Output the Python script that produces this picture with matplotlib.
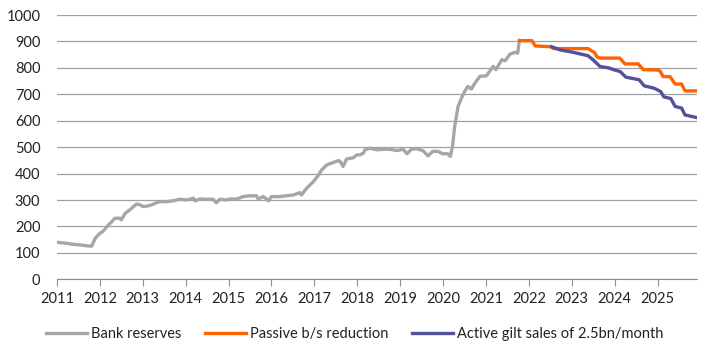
import matplotlib
matplotlib.use("Agg")
import matplotlib.pyplot as plt

# Bank reserves (fractional year, £bn)
res_t = [2011.00, 2011.23, 2011.34, 2011.54, 2011.73, 2011.81, 2011.89, 2012.00, 2012.08,
         2012.20, 2012.26, 2012.35, 2012.47, 2012.50, 2012.59, 2012.70, 2012.78, 2012.86,
         2012.93, 2013.01, 2013.13, 2013.21, 2013.32, 2013.40, 2013.56, 2013.71, 2013.87,
         2014.02, 2014.18, 2014.22, 2014.33, 2014.49, 2014.64, 2014.71, 2014.80, 2014.95,
         2015.03, 2015.19, 2015.34, 2015.50, 2015.65, 2015.69, 2015.81, 2015.93, 2016.00,
         2016.20, 2016.35, 2016.51, 2016.66, 2016.70, 2016.82, 2016.98, 2017.09, 2017.17,
         2017.29, 2017.44, 2017.56, 2017.60, 2017.67, 2017.75, 2017.91, 2017.99, 2018.06,
         2018.14, 2018.18, 2018.30, 2018.45, 2018.61, 2018.76, 2018.92, 2019.07, 2019.16,
         2019.26, 2019.38, 2019.53, 2019.65, 2019.76, 2019.88, 2019.99, 2020.11, 2020.17,
         2020.22, 2020.27, 2020.35, 2020.43, 2020.51, 2020.58, 2020.66, 2020.74, 2020.86,
         2021.01, 2021.17, 2021.23, 2021.37, 2021.45, 2021.56, 2021.68, 2021.74, 2021.78]
res_v = [140, 136, 133, 130, 126, 126, 155, 174, 183,
         206, 215, 231, 231, 225, 250, 263, 275, 285,
         282, 275, 278, 282, 290, 294, 294, 297, 303,
         300, 307, 297, 304, 303, 303, 290, 303, 300,
         304, 304, 313, 316, 316, 304, 313, 297, 313,
         313, 316, 319, 328, 319, 345, 370, 393, 414,
         433, 442, 449, 446, 427, 455, 460, 471, 471,
         477, 490, 496, 490, 492, 492, 487, 492, 475,
         492, 494, 487, 467, 484, 484, 475, 475, 465,
         502, 578, 654, 686, 713, 730, 720, 742, 768,
         770, 806, 793, 831, 827, 852, 859, 856, 904]

# Passive balance-sheet reduction
pas_t = [2021.78, 2022.07, 2022.15, 2022.50, 2022.58, 2023.38, 2023.47, 2023.53, 2023.60,
         2023.66, 2024.12, 2024.24, 2024.55, 2024.67, 2025.00, 2025.06, 2025.13, 2025.29,
         2025.41, 2025.56, 2025.64, 2025.91]
pas_v = [903, 903, 883, 880, 873, 873, 864, 858, 840,
         837, 837, 815, 815, 793, 792, 788, 767, 767,
         739, 739, 713, 713]

# Active gilt sales of 2.5bn/month
act_t = [2022.53, 2022.73, 2023.00, 2023.38, 2023.50, 2023.66, 2023.86, 2023.98, 2024.13,
         2024.26, 2024.57, 2024.69, 2024.92, 2025.07, 2025.15, 2025.31, 2025.41, 2025.56,
         2025.64, 2025.91]
act_v = [880, 868, 860, 846, 830, 805, 800, 793, 786,
         765, 755, 732, 723, 711, 690, 684, 654, 648,
         622, 612]

years = list(range(2011, 2026))
yticks = list(range(0, 1001, 100))

plt.rcParams['font.family'] = ['Lato', 'DejaVu Sans']
fig = plt.figure(figsize=(7.10, 3.61), dpi=100)
ax = fig.add_axes([0.0803, 0.2263, 0.9014, 0.7321])

ax.plot(res_t, res_v, color='#a6a6a6', lw=2.4, label='Bank reserves', solid_joinstyle='round')
ax.plot(pas_t, pas_v, color='#ff6200', lw=2.4, label='Passive b/s reduction', solid_joinstyle='round')
ax.plot(act_t, act_v, color='#525199', lw=2.4, label='Active gilt sales of 2.5bn/month', solid_joinstyle='round')

ax.set_xlim(2011, 2025.92)
ax.set_ylim(0, 1000)
ax.set_xticks(years)
ax.set_xticklabels([str(y) for y in years])
ax.set_yticks(yticks)
ax.grid(axis='y', color='#a0a0a0', lw=0.9)
ax.set_axisbelow(True)
for s in ['top', 'right', 'left']:
    ax.spines[s].set_visible(False)
ax.spines['bottom'].set_color('#909090')
ax.tick_params(axis='y', length=0, pad=12, labelsize=10.5, colors='#222222')
ax.tick_params(axis='x', length=5, direction='out', color='#909090', pad=4, labelsize=10.5, labelcolor='#222222')

leg = fig.legend(loc='center', bbox_to_anchor=(0.5, 0.075), ncol=3, frameon=False,
                 fontsize=10.5, handlelength=2.8, handletextpad=0.3, columnspacing=1.6)
for t in leg.get_texts():
    t.set_color('#222222')

fig.savefig('out.png', dpi=100)
